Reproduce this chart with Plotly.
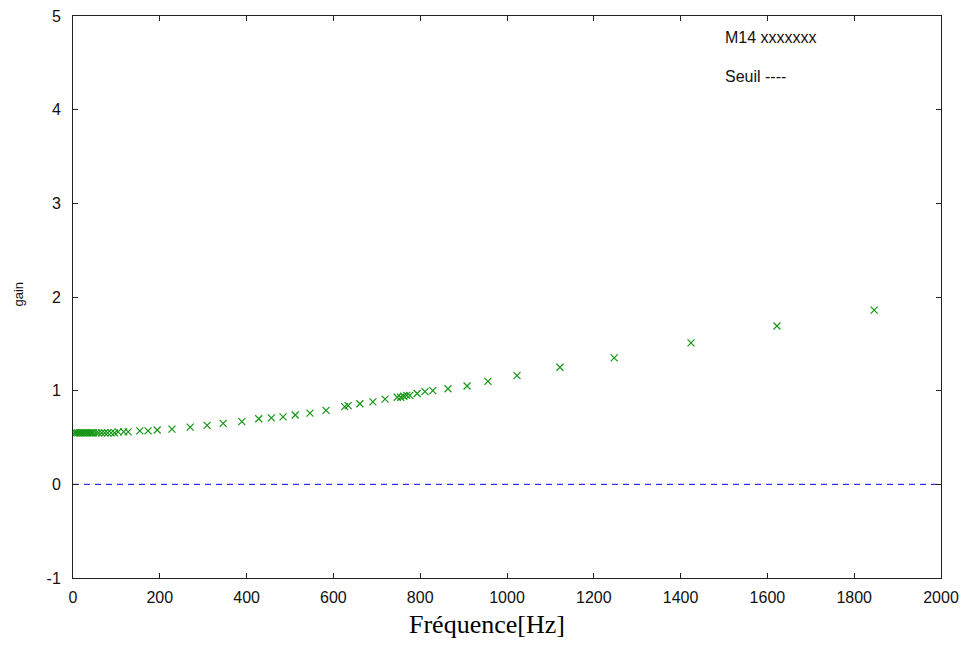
import plotly.graph_objects as go

# Measured gain (M14) vs frequency
freq_hz = [3, 7, 11, 15, 19, 23, 27, 31, 35, 39, 43, 47, 53, 59, 66, 73, 80, 88, 96,
           104, 117, 127, 154, 173, 194, 228, 270, 309, 346, 389, 428, 457, 484, 512,
           546, 583, 626, 634, 661, 691, 719, 747, 755, 762, 769, 776, 793, 811, 829,
           864, 908, 956, 1023, 1122, 1247, 1424, 1622, 1846]
gain_m14 = [0.55, 0.55, 0.55, 0.55, 0.55, 0.55, 0.55, 0.55, 0.55, 0.55, 0.55, 0.55, 0.55, 0.55, 0.55, 0.55, 0.55, 0.55, 0.55,
            0.56, 0.56, 0.56, 0.57, 0.57, 0.58, 0.59, 0.61, 0.63, 0.65, 0.67, 0.70, 0.71, 0.72, 0.74,
            0.76, 0.79, 0.83, 0.84, 0.86, 0.88, 0.91, 0.93, 0.93, 0.94, 0.95, 0.95, 0.97, 0.99, 1.00,
            1.02, 1.05, 1.10, 1.16, 1.25, 1.35, 1.51, 1.69, 1.86]

# Threshold (Seuil)
seuil_x = [0, 2000]
seuil_y = [0, 0]

x_ticks = [0, 200, 400, 600, 800, 1000, 1200, 1400, 1600, 1800, 2000]
y_ticks = [-1, 0, 1, 2, 3, 4, 5]

fig = go.Figure()
fig.add_trace(go.Scatter(
    x=seuil_x, y=seuil_y, mode="lines",
    line=dict(color="#0000ff", width=1, dash="6px,5px"),
    showlegend=False, hoverinfo="skip"))
fig.add_trace(go.Scatter(
    x=freq_hz, y=gain_m14, mode="markers",
    marker=dict(symbol="x-thin", size=7, line=dict(color="#129612", width=1.2), color="#129612"),
    showlegend=False))

tick_font = dict(family="Liberation Sans, Arial, sans-serif", size=16, color="#111")

fig.update_layout(
    width=974, height=660,
    margin=dict(l=65, r=41, t=8, b=90),
    paper_bgcolor="white", plot_bgcolor="white",
    xaxis=dict(range=[0, 2000], tickvals=x_ticks, ticktext=[str(v) for v in x_ticks],
               showline=True, linecolor="#222", linewidth=1, mirror="allticks",
               ticks="inside", ticklen=5, tickcolor="#222", showgrid=False, zeroline=False,
               tickfont=tick_font, ticklabelstandoff=5, ticklabeloverflow="allow",
               automargin=False),
    yaxis=dict(range=[-1, 5], tickvals=y_ticks, ticktext=[str(v) for v in y_ticks],
               showline=True, linecolor="#222", linewidth=1, mirror="allticks",
               ticks="inside", ticklen=5, tickcolor="#222", showgrid=False, zeroline=False,
               tickfont=tick_font, ticklabelstandoff=8, ticklabeloverflow="allow",
               automargin=False),
    annotations=[
        dict(text="Fréquence[Hz]", xref="paper", yref="paper", x=0.477, y=-0.083,
             xanchor="center", yanchor="middle", showarrow=False,
             font=dict(family="Liberation Serif, Times New Roman, serif", size=26, color="#000")),
        dict(text="gain", xref="paper", yref="paper", x=-0.063, y=0.505, textangle=-90,
             xanchor="center", yanchor="middle", showarrow=False,
             font=dict(family="Liberation Sans, Arial, sans-serif", size=13, color="#111")),
        dict(text="M14 xxxxxxx", xref="paper", yref="paper", x=0.7485, y=0.961,
             xanchor="left", yanchor="middle", showarrow=False,
             font=dict(family="Liberation Sans, Arial, sans-serif", size=16, color="#111")),
        dict(text="Seuil ----", xref="paper", yref="paper", x=0.7485, y=0.893,
             xanchor="left", yanchor="middle", showarrow=False,
             font=dict(family="Liberation Sans, Arial, sans-serif", size=16, color="#111")),
    ],
)

fig.write_html("out.html")
